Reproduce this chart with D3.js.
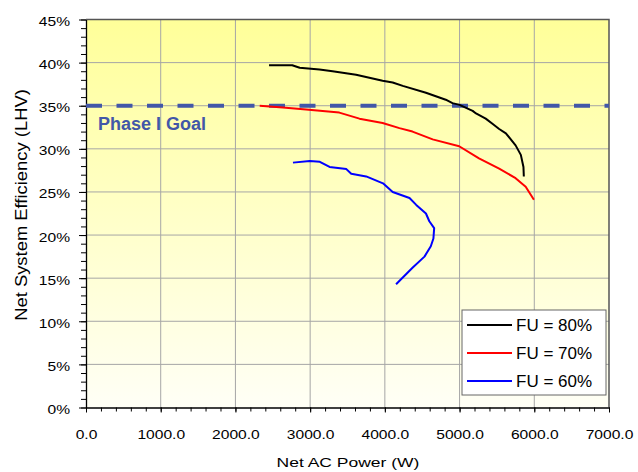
<!DOCTYPE html>
<html lang='en'>
  <head>
    <style type='text/css'>
      body {margin: 0; background-color: #fff;}
      svg text {font-family: "Liberation Sans", Arial, sans-serif; fill: #000;}
    </style>
  </head>
  <body>
    <svg id='chart' width='638' height='472'></svg>

    <script src='https://d3js.org/d3.v7.min.js'></script>
    <script type='text/javascript'>
        // Data (power in W, efficiency in %)
        var fu80Power = [2450, 2760, 2860, 3125, 3300, 3615, 3970, 4105, 4240, 4550, 4815, 4905, 5000, 5175, 5220, 5350, 5440, 5530, 5620, 5750, 5820, 5855, 5860];
        var fu80Eff   = [39.7, 39.7, 39.4, 39.2, 39.0, 38.6, 37.9, 37.7, 37.3, 36.5, 35.7, 35.3, 35.1, 34.4, 34.1, 33.5, 32.9, 32.3, 31.8, 30.4, 29.3, 27.9, 26.8];

        var fu70Power = [2325, 2635, 2945, 3390, 3660, 3970, 4195, 4370, 4640, 4995, 5260, 5530, 5750, 5885, 5995];
        var fu70Eff   = [35.0, 34.8, 34.55, 34.2, 33.5, 33.0, 32.4, 32.0, 31.1, 30.3, 28.9, 27.7, 26.6, 25.6, 24.1];

        var fu60Power = [2770, 2995, 3130, 3260, 3485, 3550, 3750, 3975, 4105, 4330, 4420, 4550, 4595, 4660, 4650, 4615, 4530, 4370, 4150];
        var fu60Eff   = [28.4, 28.6, 28.5, 27.9, 27.65, 27.1, 26.8, 26.0, 25.0, 24.3, 23.5, 22.5, 21.6, 20.8, 19.6, 18.7, 17.5, 16.2, 14.3];

        var seriesNames  = ["FU = 80%", "FU = 70%", "FU = 60%"];
        var seriesColors = ["#000000", "#ff0000", "#0000ff"];

        var goalValue = 35;
        var goalLabel = "Phase I Goal";

        var xTicks = [0, 1000, 2000, 3000, 4000, 5000, 6000, 7000];
        var yTicks = [0, 5, 10, 15, 20, 25, 30, 35, 40, 45];

        var svg = d3.select("#chart");
        var plot = {left: 86, right: 609, top: 19.5, bottom: 407.5};

        var x = d3.scaleLinear().domain([0, 7000]).range([plot.left, plot.right]);
        var y = d3.scaleLinear().domain([0, 45]).range([plot.bottom, plot.top]);

        // Background gradient of the plot area
        var grad = svg.append("defs").append("linearGradient")
            .attr("id", "bg").attr("x1", 0).attr("y1", 0).attr("x2", 0).attr("y2", 1);
        grad.append("stop").attr("offset", "0%").attr("stop-color", "#ffff99");
        grad.append("stop").attr("offset", "100%").attr("stop-color", "#fffff6");

        svg.append("rect")
            .attr("x", plot.left).attr("y", plot.top)
            .attr("width", plot.right - plot.left).attr("height", plot.bottom - plot.top)
            .attr("fill", "url(#bg)");

        // Grid lines
        svg.append("g").selectAll("line")
          .data(xTicks.slice(1, -1))
          .enter().append("line")
            .attr("x1", function(d) { return x(d); }).attr("x2", function(d) { return x(d); })
            .attr("y1", plot.top).attr("y2", plot.bottom)
            .attr("stroke", "#a6a6a6").attr("stroke-width", 1);
        svg.append("g").selectAll("line")
          .data(yTicks.slice(1, -1))
          .enter().append("line")
            .attr("x1", plot.left).attr("x2", plot.right)
            .attr("y1", function(d) { return y(d); }).attr("y2", function(d) { return y(d); })
            .attr("stroke", "#a6a6a6").attr("stroke-width", 1);

        // Top and right border
        svg.append("path")
            .attr("d", "M" + plot.left + "," + plot.top + "H" + plot.right + "V" + plot.bottom)
            .attr("fill", "none").attr("stroke", "#555").attr("stroke-width", 1.5);

        // Minor ticks
        svg.append("g")
            .attr("transform", "translate(0," + plot.bottom + ")")
            .call(d3.axisBottom(x).tickValues(d3.range(0, 7001, 200)).tickSize(4).tickFormat(""))
            .call(function(g) { g.select(".domain").remove(); });
        svg.append("g")
            .attr("transform", "translate(" + plot.left + ",0)")
            .call(d3.axisLeft(y).tickValues(d3.range(0, 46, 1)).tickSize(5).tickFormat(""))
            .call(function(g) { g.select(".domain").remove(); });

        // Major axes
        var sx = 1.3;
        var xAxis = svg.append("g")
            .attr("transform", "translate(0," + plot.bottom + ")")
            .call(d3.axisBottom(x).tickValues(xTicks).tickSize(5).tickSizeOuter(0).tickFormat(d3.format(".1f")));
        xAxis.selectAll("text")
            .attr("y", 23).attr("font-size", 12)
            .attr("transform", "scale(" + sx + ",1)");

        var yAxis = svg.append("g")
            .attr("transform", "translate(" + plot.left + ",0)")
            .call(d3.axisLeft(y).tickValues(yTicks).tickSize(7).tickSizeOuter(0).tickFormat(function(d) { return d + "%"; }));
        yAxis.selectAll("text")
            .attr("x", -16 / sx).attr("dy", "0.5em").attr("font-size", 12)
            .attr("transform", "scale(" + sx + ",1)");

        svg.selectAll(".domain").attr("stroke", "#000").attr("stroke-width", 1.3);
        svg.selectAll(".tick line").attr("stroke", "#000");
        svg.selectAll(".tick text").attr("font-family", null);

        // Goal line
        svg.append("line")
            .attr("x1", plot.left).attr("x2", plot.right)
            .attr("y1", y(goalValue)).attr("y2", y(goalValue))
            .attr("stroke", "#4257a8").attr("stroke-width", 4)
            .attr("stroke-dasharray", "16,14.5");
        svg.append("text")
            .attr("x", 98).attr("y", 130)
            .attr("font-size", 18).attr("font-weight", "bold")
            .style("fill", "#4257a8")
            .text(goalLabel);

        // Curves
        var series = [
          {power: fu80Power, eff: fu80Eff},
          {power: fu70Power, eff: fu70Eff},
          {power: fu60Power, eff: fu60Eff}
        ];
        var line = d3.line()
            .x(function(d) { return x(d[0]); })
            .y(function(d) { return y(d[1]); });

        svg.append("g").selectAll("path")
          .data(series)
          .enter().append("path")
            .attr("d", function(s) { return line(d3.zip(s.power, s.eff)); })
            .attr("fill", "none")
            .attr("stroke", function(s, i) { return seriesColors[i]; })
            .attr("stroke-width", 2)
            .attr("stroke-linejoin", "round");

        // Legend
        var legend = svg.append("g").attr("transform", "translate(462,310)");
        legend.append("rect")
            .attr("width", 144).attr("height", 85)
            .attr("fill", "#fff").attr("stroke", "#666").attr("stroke-width", 1);
        var item = legend.selectAll(".item")
          .data(seriesNames)
          .enter().append("g")
            .attr("transform", function(d, i) { return "translate(0," + (15 + i * 28) + ")"; });
        item.append("line")
            .attr("x1", 5).attr("x2", 50)
            .attr("stroke", function(d, i) { return seriesColors[i]; })
            .attr("stroke-width", 2);
        item.append("text")
            .attr("x", 54).attr("y", 6)
            .attr("font-size", 17)
            .text(function(d) { return d; });

        // Axis titles
        svg.append("text")
            .attr("transform", "translate(348,467) scale(1.4,1)")
            .attr("text-anchor", "middle").attr("font-size", 12.5)
            .text("Net AC Power (W)");
        svg.append("text")
            .attr("transform", "translate(27,205) rotate(-90) scale(1.15,1)")
            .attr("text-anchor", "middle").attr("font-size", 16)
            .text("Net System Efficiency (LHV)");
    </script>
  </body>
</html>
